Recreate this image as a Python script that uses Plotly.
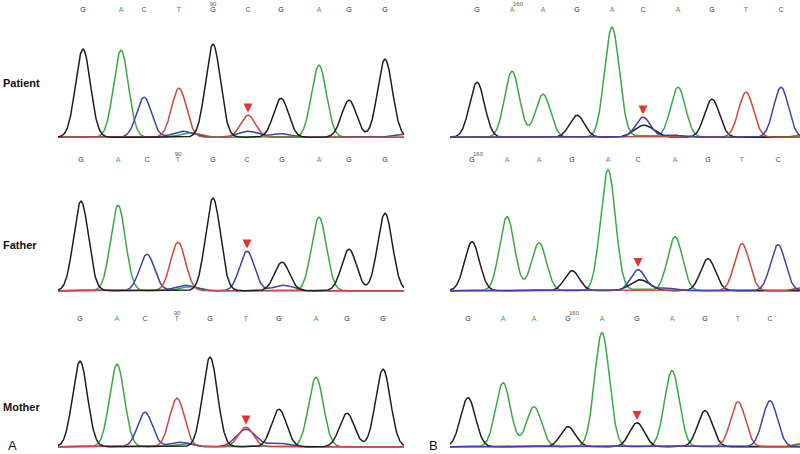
import numpy as np
import plotly.graph_objects as go

# ---------------- data (peak centres in scan units, signal heights) ----------------
# Panel A (exon region around position 90)
pat_a_x = [83, 121, 144, 179, 213, 248, 281, 319, 349, 385]
pat_a_h = [880, 870, 400, 490, 930, 220, 390, 720, 370, 780]
pat_a_peaks = "GACTGTGAGG"
pat_a_calls = "GACTGCGAGG"
pat_a_minor_x = [183, 190, 281, 248, 402]
pat_a_minor_h = [60, 45, 35, 60, 30]
pat_a_minor_b = "CACCC"

fat_a_x = [81, 118, 147, 178, 213, 247, 282, 319, 349, 385]
fat_a_h = [895, 855, 365, 485, 925, 395, 285, 735, 415, 775]
fat_a_peaks = "GACTGCGAGG"
fat_a_calls = "GACTGCGAGG"
fat_a_minor_x = [185, 190, 283]
fat_a_minor_h = [55, 40, 55]
fat_a_minor_b = "CAC"

mot_a_x = [80, 117, 145, 177, 210, 246, 279, 316, 347, 383]
mot_a_h = [855, 825, 345, 485, 895, 195, 375, 695, 335, 775]
mot_a_peaks = "GACTGTGAGG"
mot_a_calls = "GACTGTGAGG"
mot_a_minor_x = [246, 180, 185, 278]
mot_a_minor_h = [175, 45, 30, 35]
mot_a_minor_b = "CCAC"

# Panel B (region around position 160)
pat_b_x = [477, 512, 543, 577, 612, 643, 678, 712, 746, 781]
pat_b_h = [550, 660, 430, 220, 1100, 200, 500, 380, 450, 500]
pat_b_peaks = "GAAGACAGTC"
pat_b_calls = "GAAGACAGTC"
pat_b_minor_x = [644, 672, 644, 805]
pat_b_minor_h = [120, 22, 15, 25]
pat_b_minor_b = "GCAA"

fat_b_x = [472, 507, 539, 572, 608, 638, 675, 708, 742, 778]
fat_b_h = [490, 740, 480, 200, 1210, 210, 540, 320, 470, 460]
fat_b_peaks = "GAAGACAGTC"
fat_b_calls = "GAAGACAGTC"
fat_b_minor_x = [640, 665, 640, 808, 806]
fat_b_minor_h = [110, 28, 15, 40, 30]
fat_b_minor_b = "GCATA"

mot_b_x = [468, 503, 534, 568, 602, 637, 672, 705, 738, 770]
mot_b_h = [490, 640, 400, 200, 1140, 240, 760, 360, 450, 460]
mot_b_peaks = "GAAGAGAGTC"
mot_b_calls = "GAAGAGAGTC"
mot_b_minor_x = [805, 808]
mot_b_minor_h = [35, 30]
mot_b_minor_b = "AT"

# mutation site index (arrow) and numbered base index for each panel
mut_idx = [5, 5, 5, 5, 5, 5]
num_idx = [4, 1, 3, 0, 3, 3]
num_lbl = ["90", "160", "90", "160", "90", "160"]
row_names = ["Patient", "Father", "Mother"]

# ---------------- style ----------------
COL = {"G": "#1e1e1e", "A": "#3aa845", "C": "#3f42a8", "T": "#c84a3c"}
ARROW = "#e2352a"
FONT = "Liberation Sans, Arial, sans-serif"
W, H = 800, 454
SIG = 7.4

panels = [
    (pat_a_x, pat_a_h, pat_a_peaks, pat_a_calls, pat_a_minor_x, pat_a_minor_h, pat_a_minor_b),
    (pat_b_x, pat_b_h, pat_b_peaks, pat_b_calls, pat_b_minor_x, pat_b_minor_h, pat_b_minor_b),
    (fat_a_x, fat_a_h, fat_a_peaks, fat_a_calls, fat_a_minor_x, fat_a_minor_h, fat_a_minor_b),
    (fat_b_x, fat_b_h, fat_b_peaks, fat_b_calls, fat_b_minor_x, fat_b_minor_h, fat_b_minor_b),
    (mot_a_x, mot_a_h, mot_a_peaks, mot_a_calls, mot_a_minor_x, mot_a_minor_h, mot_a_minor_b),
    (mot_b_x, mot_b_h, mot_b_peaks, mot_b_calls, mot_b_minor_x, mot_b_minor_h, mot_b_minor_b),
]

row_base_px = [138, 291.5, 447.5]
row_span = [1380, 1460, 1460]   # units; 10 units per pixel
letter_y = [1275, 1315, 1285]
num_off = [62, 60, 60]
x_ranges = [(58, 404), (450, 800)]

fig = go.Figure()
layout = {}
annotations = []

for i, (px, ph, pb, calls, mx, mh, mb) in enumerate(panels):
    row, col = divmod(i, 2)
    n = i + 1
    xa = "x" if n == 1 else f"x{n}"
    ya = "y" if n == 1 else f"y{n}"
    xr = x_ranges[col]
    base = row_base_px[row]
    span = row_span[row]
    ybot = 1 - (base + 1) / H
    ytop = 1 - (base - span / 10) / H
    layout["xaxis" if n == 1 else f"xaxis{n}"] = dict(
        domain=[xr[0] / W, xr[1] / W], range=list(xr), visible=False, fixedrange=True)
    layout["yaxis" if n == 1 else f"yaxis{n}"] = dict(
        domain=[max(ybot, 0), min(ytop, 1)], range=[-10, span], visible=False, fixedrange=True)

    xs = np.linspace(xr[0], xr[1], 900)
    for b in ["A", "C", "T", "G"] if col == 0 else ["A", "G", "T", "C"]:
        y = np.full_like(xs, 8.0)
        for c, h, bb in zip(px, ph, pb):
            if bb == b:
                y += h * np.exp(-0.5 * ((xs - c) / SIG) ** 2)
        for c, h, bb in zip(mx, mh, mb):
            if bb == b:
                y += h * np.exp(-0.5 * ((xs - c) / (SIG * 1.3)) ** 2)
        fig.add_trace(go.Scatter(x=xs, y=y, mode="lines", xaxis=xa, yaxis=ya,
                                 line=dict(color=COL[b], width=1.5), hoverinfo="skip",
                                 showlegend=False))

    # base calls
    fig.add_trace(go.Scatter(x=px, y=[letter_y[row]] * len(px), mode="text", text=list(calls),
                             textfont=dict(color=[COL[c] for c in calls], size=7, family=FONT),
                             xaxis=xa, yaxis=ya, cliponaxis=False, hoverinfo="skip",
                             showlegend=False))
    # numbered position
    k = num_idx[i]
    fig.add_trace(go.Scatter(x=[px[k] + (0 if col == 0 else 6)], y=[letter_y[row] + num_off[row]],
                             mode="text", text=[num_lbl[i]],
                             textfont=dict(color="#555555", size=6, family=FONT),
                             xaxis=xa, yaxis=ya, cliponaxis=False, hoverinfo="skip",
                             showlegend=False))
    # mutation arrow
    m = mut_idx[i]
    tip = ph[m]
    for c, h in zip(mx, mh):
        if abs(c - px[m]) < 3:
            tip = max(tip, h)
    annotations.append(dict(x=px[m], y=tip + 35, xref=xa, yref=ya, text="", showarrow=True,
                            ax=0, ay=-10, arrowhead=2, arrowsize=0.75, arrowwidth=2.4,
                            arrowcolor=ARROW))

for r, name in enumerate(row_names):
    ypx = [83, 245, 407][r]
    annotations.append(dict(x=1 / W, y=1 - ypx / H, xref="paper", yref="paper", text=f"<b>{name}</b>",
                            showarrow=False, xanchor="left", yanchor="middle",
                            font=dict(size=11, color="#111111", family=FONT)))

annotations.append(dict(x=6 / W, y=1 - 445 / H, xref="paper", yref="paper", text="A", showarrow=False,
                        xanchor="left", yanchor="middle", font=dict(size=13, color="#111111", family=FONT)))
annotations.append(dict(x=427 / W, y=1 - 445 / H, xref="paper", yref="paper", text="B", showarrow=False,
                        xanchor="left", yanchor="middle", font=dict(size=13, color="#111111", family=FONT)))

fig.update_layout(width=W, height=H, margin=dict(l=0, r=0, t=0, b=0),
                  paper_bgcolor="white", plot_bgcolor="rgba(0,0,0,0)", annotations=annotations,
                  **layout)
fig.write_html("out.html", config={"displayModeBar": False},
               post_script="document.body.style.margin='0';document.body.style.overflow='hidden';")
